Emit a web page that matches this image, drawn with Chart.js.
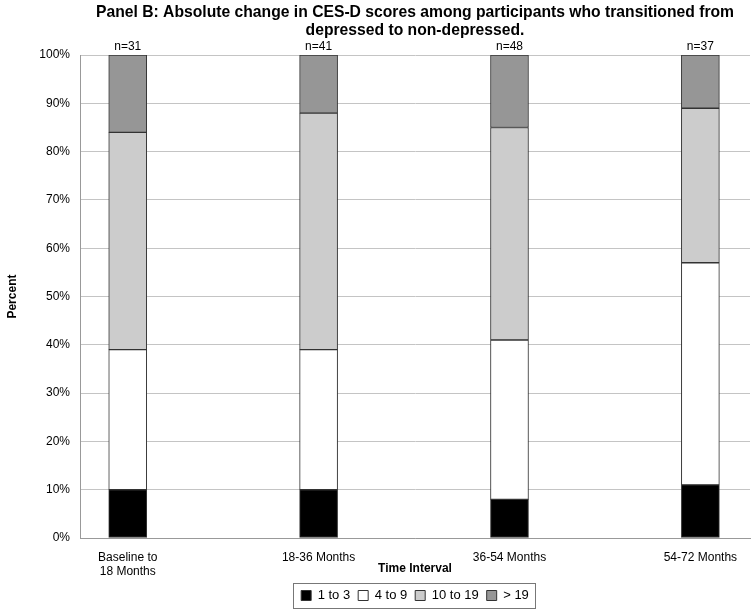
<!DOCTYPE html>
<html>
<head>
<meta charset="utf-8">
<script src="https://cdn.jsdelivr.net/npm/chart.js@4.4.1/dist/chart.umd.min.js"></script>
<style>
  html, body { margin: 0; padding: 0; background: #fff; }
  #wrap { width: 756px; height: 614px; }
</style>
</head>
<body>
<div id="wrap"><canvas id="cesd-chart"></canvas></div>
<script>
var categories = [['Baseline to', '18 Months'], '18-36 Months', '36-54 Months', '54-72 Months'];
var nLabels = ['n=31', 'n=41', 'n=48', 'n=37'];
var oneToThree = [10, 10, 8, 11];
var fourToNine = [29, 29, 33, 46];
var tenToNineteen = [45, 49, 44, 32];
var overNineteen = [16, 12, 15, 11];
var yTicks = [0, 10, 20, 30, 40, 50, 60, 70, 80, 90, 100];

function points(arr) {
  return arr.map(function (v, i) { return { x: i, y: v }; });
}

// n= labels above each bar
var nLabelPlugin = {
  id: 'nLabels',
  afterDatasetsDraw: function (chart) {
    var ctx = chart.ctx;
    var xs = chart.scales.x;
    ctx.save();
    ctx.font = '12px "Liberation Sans", Arial, sans-serif';
    ctx.fillStyle = '#000';
    ctx.textAlign = 'center';
    ctx.textBaseline = 'middle';
    nLabels.forEach(function (t, i) {
      ctx.fillText(t, xs.getPixelForValue(i), chart.chartArea.top - 8);
    });
    ctx.restore();
  }
};

// box round the legend, as in the original
var legendBox = {
  id: 'legendBox',
  afterDraw: function (chart) {
    var boxes = chart.legend.legendHitBoxes;
    if (!boxes || !boxes.length) return;
    var l = Infinity, t = Infinity, r = -Infinity, b = -Infinity;
    boxes.forEach(function (h) {
      l = Math.min(l, h.left); t = Math.min(t, h.top);
      r = Math.max(r, h.left + h.width); b = Math.max(b, h.top + h.height);
    });
    var ctx = chart.ctx;
    ctx.save();
    ctx.strokeStyle = '#777';
    ctx.lineWidth = 1;
    ctx.strokeRect(Math.round(l - 8) + 0.5, Math.round(t - 6) + 0.5, Math.round(r - l + 14), Math.round(b - t + 12));
    ctx.restore();
  }
};

var ctx = document.getElementById('cesd-chart').getContext('2d');
var barStyle = { borderColor: '#333', borderWidth: 1, borderSkipped: false, barThickness: 38 };

new Chart(ctx, {
  type: 'bar',
  data: {
    datasets: [
      Object.assign({ label: '1 to 3', data: points(oneToThree), backgroundColor: '#000000' }, barStyle),
      Object.assign({ label: '4 to 9', data: points(fourToNine), backgroundColor: '#ffffff' }, barStyle),
      Object.assign({ label: '10 to 19', data: points(tenToNineteen), backgroundColor: '#cccccc' }, barStyle),
      Object.assign({ label: '> 19', data: points(overNineteen), backgroundColor: '#969696' }, barStyle)
    ]
  },
  options: {
    responsive: true,
    maintainAspectRatio: false,
    animation: false,
    layout: { padding: { top: 0, right: 6, bottom: 2, left: 0 } },
    plugins: {
      tooltip: { enabled: false },
      title: {
        display: true,
        fullSize: false,
        text: ['Panel B: Absolute change in CES-D scores among participants who transitioned from', 'depressed to non-depressed.'],
        color: '#000',
        font: { family: '"Liberation Sans", Arial, sans-serif', size: 15.7, weight: 'bold', lineHeight: 1.15 },
        padding: { top: 4, bottom: 15 }
      },
      legend: {
        position: 'bottom',
        fullSize: false,
        labels: {
          color: '#000',
          boxWidth: 10,
          boxHeight: 10,
          padding: 8,
          font: { family: '"Liberation Sans", Arial, sans-serif', size: 13 }
        }
      }
    },
    scales: {
      x: {
        type: 'linear',
        offset: false,
        stacked: true,
        min: -0.25,
        max: 3.26,
        afterBuildTicks: function (scale) {
          scale.ticks = [0, 1, 2, 3].map(function (v) { return { value: v }; });
        },
        afterFit: function (scale) { scale.height = 43; },
        grid: { display: false, drawTicks: false, offset: false },
        border: { display: true, color: '#999' },
        ticks: {
          color: '#000',
          padding: 12,
          autoSkip: false,
          maxRotation: 0,
          font: { family: '"Liberation Sans", Arial, sans-serif', size: 12 },
          callback: function (v) { return categories[v]; }
        },
        title: {
          display: true,
          text: 'Time Interval',
          color: '#000',
          font: { family: '"Liberation Sans", Arial, sans-serif', size: 12, weight: 'bold' },
          padding: { top: 0, bottom: 5 }
        }
      },
      y: {
        stacked: true,
        min: 0,
        max: 100,
        afterBuildTicks: function (scale) {
          scale.ticks = yTicks.map(function (v) { return { value: v }; });
        },
        afterFit: function (scale) { scale.width = 80; },
        grid: { color: '#c4c4c4', drawTicks: false },
        border: { display: true, color: '#999' },
        ticks: {
          color: '#000',
          padding: 10,
          font: { family: '"Liberation Sans", Arial, sans-serif', size: 12 },
          callback: function (v) { return v + '%'; }
        },
        title: {
          display: true,
          text: 'Percent',
          color: '#000',
          font: { family: '"Liberation Sans", Arial, sans-serif', size: 12, weight: 'bold' },
          padding: { top: 5, bottom: 0 }
        }
      }
    }
  },
  plugins: [nLabelPlugin, legendBox]
});
</script>
</body>
</html>
